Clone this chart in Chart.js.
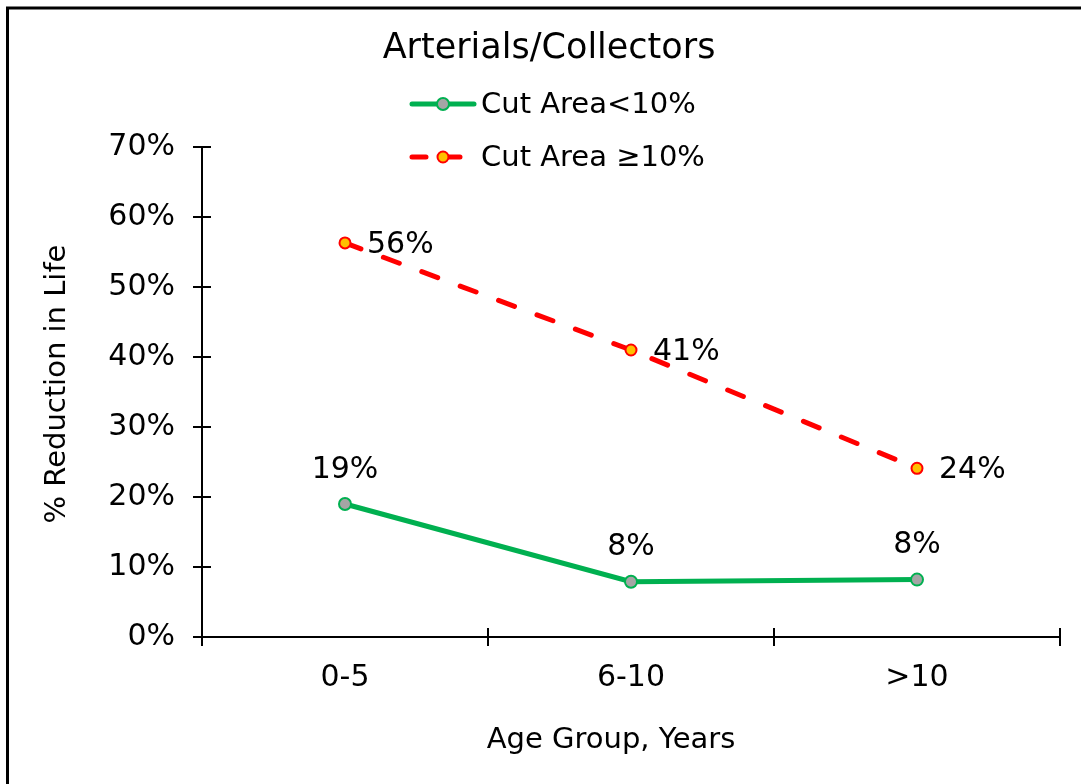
<!DOCTYPE html>
<html>
<head>
<meta charset="utf-8">
<script src="https://cdn.jsdelivr.net/npm/chart.js@4/dist/chart.umd.min.js"></script>
<style>
  html, body { margin: 0; padding: 0; background: #ffffff; }
  #wrap { width: 1081px; height: 784px; }
</style>
</head>
<body>
<div id="wrap"><canvas id="c" width="1081" height="784"></canvas></div>
<script>
// Age groups (x axis)
const categories = ['0-5', '6-10', '>10'];
// Reduction in life, as fractions
const cutAreaBelow10 = [0.19, 0.079, 0.082];
const cutAreaAbove10 = [0.563, 0.41, 0.241];
// Y axis range and step
const yMin = 0;
const yMax = 0.7;
const yStep = 0.1;

const chartTitle = 'Arterials/Collectors';
const seriesNames = ['Cut Area<10%', 'Cut Area \u226510%'];
const xAxisTitle = 'Age Group, Years';
const yAxisTitle = '% Reduction in Life';

const FONT = "'DejaVu Sans', Verdana, sans-serif";
Chart.defaults.font.family = FONT;
Chart.defaults.color = '#000000';

const pct = v => Math.round(v * 100) + '%';

// White page background plus the outer frame
const backgroundPlugin = {
  id: 'pageBackground',
  beforeDraw(chart) {
    const ctx = chart.ctx;
    ctx.save();
    ctx.fillStyle = '#ffffff';
    ctx.fillRect(0, 0, chart.width, chart.height);
    ctx.strokeStyle = '#000000';
    ctx.lineWidth = 3;
    ctx.strokeRect(7.5, 8, 3000, 3000);
    ctx.restore();
  }
};

// Inner halves of the cross tick marks on both axes
const innerTicksPlugin = {
  id: 'innerTicks',
  afterDraw(chart) {
    const ctx = chart.ctx;
    const xs = chart.scales.x, ys = chart.scales.y;
    const area = chart.chartArea;
    const len = 9;
    ctx.save();
    ctx.strokeStyle = '#000000';
    ctx.lineWidth = 2;
    ctx.beginPath();
    for (let i = 0; i <= categories.length; i++) {
      const px = Math.round(xs.getPixelForValue(i - 0.5));
      ctx.moveTo(px, area.bottom);
      ctx.lineTo(px, area.bottom - len);
    }
    ys.ticks.forEach(t => {
      const py = Math.round(ys.getPixelForValue(t.value));
      ctx.moveTo(area.left, py);
      ctx.lineTo(area.left + len, py);
    });
    ctx.stroke();
    ctx.restore();
  }
};

// Axis titles
const axisTitlesPlugin = {
  id: 'axisTitles',
  afterDraw(chart) {
    const ctx = chart.ctx;
    ctx.save();
    ctx.fillStyle = '#000000';
    ctx.font = '29px ' + FONT;
    ctx.textAlign = 'center';
    ctx.textBaseline = 'middle';
    ctx.fillText(xAxisTitle, 611, 740);
    ctx.translate(57, 384);
    ctx.rotate(-Math.PI / 2);
    ctx.fillText(yAxisTitle, 0, 0);
    ctx.restore();
  }
};

// Value labels next to each point
const valueLabelsPlugin = {
  id: 'valueLabels',
  afterDatasetsDraw(chart) {
    const ctx = chart.ctx;
    ctx.save();
    ctx.font = '30px ' + FONT;
    ctx.fillStyle = '#000000';
    chart.data.datasets.forEach((ds, di) => {
      const meta = chart.getDatasetMeta(di);
      meta.data.forEach((pt, i) => {
        const text = pct(ds.data[i]);
        if (ds.labelPlacement === 'above') {
          ctx.textAlign = 'center';
          ctx.textBaseline = 'middle';
          ctx.fillText(text, pt.x, pt.y - 34);
        } else {
          ctx.textAlign = 'left';
          ctx.textBaseline = 'middle';
          ctx.fillText(text, pt.x + 22, pt.y + 2);
        }
      });
    });
    ctx.restore();
  }
};

// Title and the stacked legend above the plot
const headerPlugin = {
  id: 'header',
  afterDraw(chart) {
    const ctx = chart.ctx;
    ctx.save();
    ctx.fillStyle = '#000000';
    ctx.font = '35px ' + FONT;
    ctx.textAlign = 'center';
    ctx.textBaseline = 'middle';
    ctx.fillText(chartTitle, 549, 49);

    const rows = [104, 157];
    chart.data.datasets.forEach((ds, di) => {
      const y = rows[di];
      ctx.save();
      ctx.strokeStyle = ds.borderColor;
      ctx.lineWidth = ds.borderWidth;
      ctx.lineCap = 'round';
      ctx.setLineDash(ds.borderDash && ds.borderDash.length ? ds.legendDash : []);
      ctx.beginPath();
      ctx.moveTo(412, y);
      ctx.lineTo(474, y);
      ctx.stroke();
      ctx.setLineDash([]);
      ctx.beginPath();
      ctx.arc(443, y, ds.pointRadius, 0, Math.PI * 2);
      ctx.fillStyle = ds.pointBackgroundColor;
      ctx.fill();
      ctx.lineWidth = ds.pointBorderWidth;
      ctx.strokeStyle = ds.pointBorderColor;
      ctx.stroke();
      ctx.restore();

      ctx.font = '29px ' + FONT;
      ctx.textAlign = 'left';
      ctx.textBaseline = 'middle';
      ctx.fillStyle = '#000000';
      ctx.fillText(ds.label, 481, y + 1);
    });
    ctx.restore();
  }
};

new Chart(document.getElementById('c'), {
  type: 'line',
  data: {
    labels: categories,
    datasets: [
      {
        label: seriesNames[0],
        data: cutAreaBelow10,
        borderColor: '#00b050',
        borderWidth: 5,
        pointRadius: 6,
        pointHoverRadius: 6,
        pointBackgroundColor: '#a5a5a5',
        pointBorderColor: '#00b050',
        pointBorderWidth: 2,
        tension: 0,
        labelPlacement: 'above'
      },
      {
        label: seriesNames[1],
        data: cutAreaAbove10,
        borderColor: '#ff0000',
        borderWidth: 5,
        borderDash: [17, 24],
        legendDash: [14, 20],
        borderCapStyle: 'round',
        pointRadius: 5.5,
        pointHoverRadius: 5.5,
        pointBackgroundColor: '#ffc000',
        pointBorderColor: '#ff0000',
        pointBorderWidth: 2,
        tension: 0,
        labelPlacement: 'right'
      }
    ]
  },
  options: {
    responsive: false,
    animation: false,
    layout: { padding: { top: 147, right: 21, left: 0, bottom: 0 } },
    plugins: {
      legend: { display: false },
      title: { display: false },
      tooltip: { enabled: false }
    },
    scales: {
      x: {
        type: 'category',
        offset: true,
        afterFit(scale) { scale.height = 147; },
        grid: {
          display: true,
          offset: true,
          drawOnChartArea: false,
          drawTicks: true,
          tickLength: 9,
          color: '#000000',
          lineWidth: 2
        },
        border: { display: true, color: '#000000', width: 2 },
        ticks: {
          font: { size: 30 },
          color: '#000000',
          padding: 14,
          maxRotation: 0
        },
        title: { display: false }
      },
      y: {
        min: yMin,
        max: yMax,
        afterFit(scale) { scale.width = 202; },
        grid: {
          display: true,
          drawOnChartArea: false,
          drawTicks: true,
          tickLength: 9,
          color: '#000000',
          lineWidth: 2
        },
        border: { display: true, color: '#000000', width: 2 },
        ticks: {
          stepSize: yStep,
          font: { size: 30 },
          color: '#000000',
          padding: 18,
          callback: v => pct(v)
        },
        title: { display: false }
      }
    }
  },
  plugins: [backgroundPlugin, innerTicksPlugin, axisTitlesPlugin, valueLabelsPlugin, headerPlugin]
});
</script>
</body>
</html>
